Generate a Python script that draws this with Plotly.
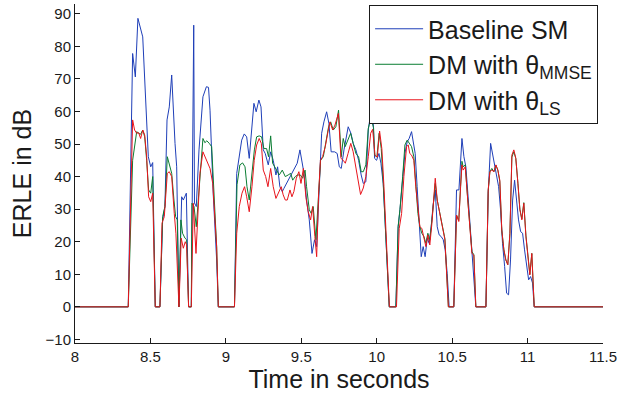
import plotly.graph_objects as go

# ---- data ----
t_base = [8.0, 8.353, 8.382, 8.400, 8.417, 8.449, 8.486, 8.502, 8.515, 8.532, 8.563, 8.581, 8.596, 8.610, 8.625,
          8.641, 8.663, 8.674, 8.689, 8.707, 8.718, 8.738, 8.753, 8.771, 8.787, 8.792, 8.804, 8.822, 8.848, 8.861,
          8.871, 8.885, 8.895, 8.916, 8.939, 8.950, 9.057, 9.072, 9.089, 9.105, 9.122, 9.138, 9.155, 9.171, 9.186,
          9.201, 9.219, 9.233, 9.248, 9.261, 9.281, 9.297, 9.314, 9.332, 9.343, 9.358, 9.374, 9.385, 9.403, 9.420,
          9.438, 9.456, 9.473, 9.491, 9.504, 9.518, 9.535, 9.553, 9.571, 9.588, 9.602, 9.619, 9.635, 9.650, 9.668,
          9.683, 9.698, 9.721, 9.738, 9.752, 9.765, 9.783, 9.796, 9.811, 9.829, 9.844, 9.862, 9.880, 9.897, 9.911,
          9.928, 9.944, 9.962, 9.977, 9.986, 9.999, 10.015, 10.028, 10.043, 10.083, 10.127, 10.142, 10.154, 10.172,
          10.187, 10.202, 10.215, 10.231, 10.242, 10.255, 10.268, 10.282, 10.295, 10.308, 10.321, 10.335, 10.348,
          10.361, 10.374, 10.388, 10.401, 10.414, 10.427, 10.441, 10.454, 10.467, 10.480, 10.511, 10.529, 10.545,
          10.556, 10.565, 10.578, 10.591, 10.604, 10.618, 10.631, 10.644, 10.657, 10.724, 10.739, 10.755, 10.768,
          10.781, 10.795, 10.808, 10.821, 10.834, 10.848, 10.861, 10.874, 10.887, 10.901, 10.914, 10.927, 10.940,
          10.954, 10.967, 10.980, 10.993, 11.007, 11.020, 11.033, 11.044, 11.5]
v_base = [0, 0, 77.8, 70.6, 88.6, 82.9, 46.1, 43.0, 44.3, 0, 0, 26.7, 30.8, 57.4, 61.4,
          71.2, 50.2, 43.0, 0, 33.8, 32.8, 34.9, 0, 0, 86.5, 31.9, 30.8, 48.2, 64.5, 66.6,
          67.6, 67.4, 60.4, 34.9, 14.4, 0, 0, 41.0, 47.1, 51.2, 53.1, 52.2, 45.6, 55.3, 62.5,
          59.9, 63.5, 61.4, 48.2, 47.1, 43.6, 47.6, 45.0, 40.5, 43.0, 36.9, 35.4, 36.4, 37.9, 39.5,
          41.0, 42.5, 44.1, 48.2, 45.0, 41.0, 32.8, 26.7, 16.4, 20.6, 18.5, 34.9, 53.3, 56.8, 59.9,
          56.4, 47.6, 47.6, 47.1, 43.0, 42.5, 48.2, 51.2, 55.3, 53.3, 50.2, 48.2, 45.0, 40.5, 37.9,
          38.4, 54.3, 60.0, 56.3, 45.6, 45.0, 47.1, 44.1, 37.9, 0, 0, 24.6, 29.8, 38.9,
          47.1, 50.7, 51.7, 53.8, 50.2, 47.1, 36.9, 24.6, 15.4, 18.5, 15.4, 21.1, 19.5,
          24.6, 31.3, 35.9, 24.6, 22.1, 21.6, 20.6, 17.5, 10.3, 0, 0, 35.9, 35.9,
          45.0, 51.7, 46.1, 43.0, 34.9, 25.7, 16.4, 8.3, 0, 0, 34.9, 50.2, 46.6,
          43.0, 40.0, 36.9, 29.8, 19.5, 12.4, 4.2, 3.7, 14.4, 32.8, 38.9, 32.8, 26.7,
          23.1, 22.6, 17.5, 13.4, 8.3, 9.3, 7.3, 0, 0]

t_mmse = [8.0, 8.353, 8.382, 8.395, 8.409, 8.422, 8.435, 8.449, 8.462, 8.475, 8.488, 8.502, 8.515, 8.532, 8.563,
          8.581, 8.596, 8.612, 8.625, 8.641, 8.656, 8.667, 8.678, 8.689, 8.702, 8.713, 8.729, 8.740, 8.753, 8.771,
          8.775, 8.789, 8.804, 8.828, 8.848, 8.861, 8.874, 8.890, 8.906, 8.939, 8.950, 9.057, 9.074, 9.093, 9.111,
          9.127, 9.140, 9.155, 9.173, 9.189, 9.204, 9.221, 9.237, 9.252, 9.270, 9.283, 9.297, 9.310, 9.324, 9.337,
          9.354, 9.374, 9.394, 9.413, 9.430, 9.443, 9.460, 9.475, 9.494, 9.509, 9.525, 9.535, 9.553, 9.566, 9.579,
          9.597, 9.615, 9.628, 9.646, 9.664, 9.681, 9.695, 9.712, 9.729, 9.747, 9.765, 9.778, 9.791, 9.809, 9.827,
          9.844, 9.862, 9.880, 9.897, 9.911, 9.928, 9.944, 9.962, 9.979, 9.986, 10.001, 10.016, 10.030, 10.044,
          10.083, 10.127, 10.142, 10.154, 10.172, 10.187, 10.202, 10.215, 10.231, 10.246, 10.259, 10.273, 10.286,
          10.299, 10.313, 10.326, 10.339, 10.352, 10.366, 10.379, 10.388, 10.401, 10.414, 10.427, 10.441, 10.452,
          10.475, 10.511, 10.529, 10.544, 10.556, 10.565, 10.573, 10.587, 10.600, 10.618, 10.631, 10.644, 10.657,
          10.724, 10.739, 10.750, 10.763, 10.777, 10.790, 10.803, 10.816, 10.829, 10.843, 10.856, 10.869, 10.883,
          10.896, 10.909, 10.922, 10.936, 10.949, 10.962, 10.975, 10.989, 11.002, 11.015, 11.028, 11.044, 11.5]
v_mmse = [0, 0, 45.0, 49.2, 53.8, 53.3, 53.0, 54.3, 52.2, 45.0, 35.9, 34.9, 40.0, 0, 0,
          27.7, 30.8, 46.1, 44.1, 41.0, 32.8, 27.7, 26.7, 0, 26.7, 22.6, 21.1, 20.6, 0, 0,
          31.8, 30.8, 24.6, 41.0, 51.7, 50.4, 51.0, 50.2, 49.2, 18.5, 0, 0, 37.5, 43.6, 44.2,
          43.0, 36.9, 32.8, 42.0, 48.2, 52.2, 52.5, 52.2, 48.6, 48.6, 46.1, 52.5, 44.1, 43.0, 42.0,
          40.5, 42.0, 40.0, 40.5, 41.0, 38.9, 40.0, 40.5, 40.5, 39.5, 42.0, 36.9, 29.8, 28.7, 30.8,
          20.6, 34.9, 45.0, 46.1, 51.2, 55.3, 56.8, 54.3, 55.3, 60.4, 46.1, 51.7, 49.2, 51.2, 53.3,
          50.2, 47.1, 46.1, 41.5, 41.5, 43.6, 54.8, 58.0, 55.0, 46.6, 46.0, 53.3, 48.6, 37.5,
          0, 0, 24.6, 29.8, 40.0, 49.7, 51.2, 50.2, 49.2, 46.1, 36.9, 28.7, 24.6,
          22.6, 21.6, 19.5, 22.6, 20.6, 26.7, 33.0, 37.9, 32.8, 29.8, 27.0, 22.6, 21.0,
          0, 0, 28.2, 26.5, 37.0, 44.7, 43.0, 43.6, 35.0, 24.0, 17.0, 16.0, 0,
          0, 35.5, 41.5, 42.5, 41.5, 43.5, 42.0, 38.5, 23.6, 17.5, 14.4, 13.0, 22.6,
          46.0, 47.6, 45.6, 38.0, 30.0, 27.0, 32.0, 22.0, 15.4, 10.0, 16.4, 0, 0]

t_ls = [8.0, 8.353, 8.382, 8.395, 8.409, 8.422, 8.435, 8.449, 8.462, 8.475, 8.488, 8.502, 8.515, 8.532, 8.563,
        8.577, 8.592, 8.612, 8.625, 8.641, 8.658, 8.669, 8.689, 8.704, 8.718, 8.731, 8.740, 8.753, 8.771, 8.784,
        8.802, 8.828, 8.848, 8.861, 8.877, 8.895, 8.913, 8.939, 8.950, 9.057, 9.072, 9.089, 9.107, 9.124, 9.138,
        9.155, 9.173, 9.188, 9.204, 9.221, 9.235, 9.248, 9.264, 9.279, 9.297, 9.314, 9.332, 9.350, 9.367, 9.380,
        9.394, 9.407, 9.425, 9.438, 9.451, 9.467, 9.484, 9.498, 9.514, 9.531, 9.546, 9.562, 9.575, 9.590, 9.602,
        9.615, 9.627, 9.641, 9.659, 9.677, 9.690, 9.708, 9.723, 9.746, 9.763, 9.778, 9.792, 9.810, 9.828, 9.844,
        9.862, 9.879, 9.893, 9.911, 9.928, 9.944, 9.960, 9.973, 9.989, 10.004, 10.019, 10.034, 10.048, 10.084,
        10.131, 10.149, 10.165, 10.180, 10.198, 10.209, 10.219, 10.231, 10.246, 10.259, 10.273, 10.286, 10.299,
        10.313, 10.326, 10.339, 10.352, 10.366, 10.379, 10.388, 10.401, 10.414, 10.427, 10.441, 10.452, 10.475,
        10.511, 10.529, 10.544, 10.556, 10.565, 10.573, 10.587, 10.600, 10.618, 10.631, 10.644, 10.657, 10.724,
        10.739, 10.750, 10.763, 10.777, 10.790, 10.803, 10.816, 10.829, 10.843, 10.856, 10.869, 10.883, 10.896,
        10.909, 10.922, 10.936, 10.949, 10.962, 10.975, 10.989, 11.002, 11.015, 11.028, 11.044, 11.5]
v_ls = [0, 0, 57.4, 54.3, 53.3, 53.5, 51.7, 54.3, 52.8, 46.1, 33.8, 32.3, 34.9, 0, 0,
        25.7, 27.7, 41.0, 41.5, 40.0, 28.7, 22.6, 0, 21.1, 18.0, 20.0, 19.0, 0, 0, 31.8,
        16.4, 41.0, 47.6, 46.1, 44.6, 42.5, 37.9, 18.5, 0, 0, 22.6, 30.8, 34.9, 36.9, 33.8,
        29.2, 36.9, 45.0, 49.7, 51.7, 50.2, 42.0, 40.0, 36.9, 42.5, 36.9, 33.3, 35.4, 36.9, 34.4,
        32.8, 32.8, 35.9, 33.8, 35.4, 39.5, 41.5, 37.9, 42.5, 33.5, 29.2, 26.7, 30.8, 21.6, 15.4,
        34.9, 45.0, 46.1, 49.2, 53.8, 56.8, 54.3, 55.8, 59.4, 45.6, 45.0, 44.1, 47.1, 50.2, 47.6,
        42.5, 38.4, 34.5, 36.5, 40.0, 46.1, 53.3, 54.5, 46.5, 46.0, 54.0, 48.6, 36.9, 0,
        0, 24.0, 28.7, 40.0, 49.2, 49.7, 47.1, 46.6, 45.0, 36.9, 29.8, 24.6, 24.1,
        21.6, 18.5, 22.1, 19.0, 25.7, 32.8, 39.5, 32.8, 29.8, 26.5, 22.6, 20.6, 0,
        0, 28.2, 26.2, 36.9, 43.6, 42.0, 43.0, 34.9, 23.6, 16.4, 15.9, 0, 0,
        35.9, 41.5, 42.0, 41.5, 43.6, 42.0, 38.9, 23.6, 17.5, 14.4, 12.9, 22.6, 46.6,
        48.2, 45.6, 37.9, 29.8, 26.7, 31.8, 21.6, 15.4, 9.8, 16.4, 0, 0]

names = ["Baseline SM", "DM with θ<sub>MMSE</sub>", "DM with θ<sub>LS</sub>"]
colors = ["#1f3fb8", "#0a7d32", "#e8141c"]
x_ticks = [8, 8.5, 9, 9.5, 10, 10.5, 11, 11.5]
x_tick_text = ["8", "8.5", "9", "9.5", "10", "10.5", "11", "11.5"]
y_ticks = [-10, 0, 10, 20, 30, 40, 50, 60, 70, 80, 90]
y_tick_text = ["\u221210", "0", "10", "20", "30", "40", "50", "60", "70", "80", "90"]

series = [(t_base, v_base), (t_mmse, v_mmse), (t_ls, v_ls)]

fig = go.Figure()
for (t, v), n, c in zip(series, names, colors):
    fig.add_trace(go.Scatter(x=t, y=v, mode="lines", name=n,
                             line=dict(color=c, width=1)))

font_family = "Liberation Sans, Arial, sans-serif"
fig.update_layout(
    width=621, height=394,
    margin=dict(l=75, r=18, t=4, b=51, autoexpand=False),
    paper_bgcolor="white", plot_bgcolor="white",
    font=dict(family=font_family, color="#1a1a1a"),
    showlegend=True,
    legend=dict(x=0.557, y=0.997, xanchor="left", yanchor="top",
                bgcolor="white", bordercolor="#1a1a1a", borderwidth=1,
                font=dict(size=25, family=font_family, color="#1a1a1a"),
                tracegroupgap=0, itemwidth=48),
)
fig.update_xaxes(range=[8, 11.5], tickvals=x_ticks, ticktext=x_tick_text,
                 ticks="inside", ticklen=5, tickcolor="#1a1a1a",
                 showline=True, linecolor="#1a1a1a", linewidth=1,
                 showgrid=False, zeroline=False, mirror=False,
                 tickfont=dict(size=15),
                 title=dict(text="Time in seconds", font=dict(size=25), standoff=2))
fig.update_yaxes(range=[-11.1, 93], tickvals=y_ticks, ticktext=y_tick_text,
                 ticks="inside", ticklen=5, tickcolor="#1a1a1a",
                 showline=True, linecolor="#1a1a1a", linewidth=1,
                 showgrid=False, zeroline=False, mirror=False,
                 tickfont=dict(size=15),
                 title=dict(text="ERLE in dB", font=dict(size=25), standoff=6))

fig.write_html("out.html", config={"displayModeBar": False},
               post_script="document.body.style.margin='0';document.body.style.overflow='hidden';")
